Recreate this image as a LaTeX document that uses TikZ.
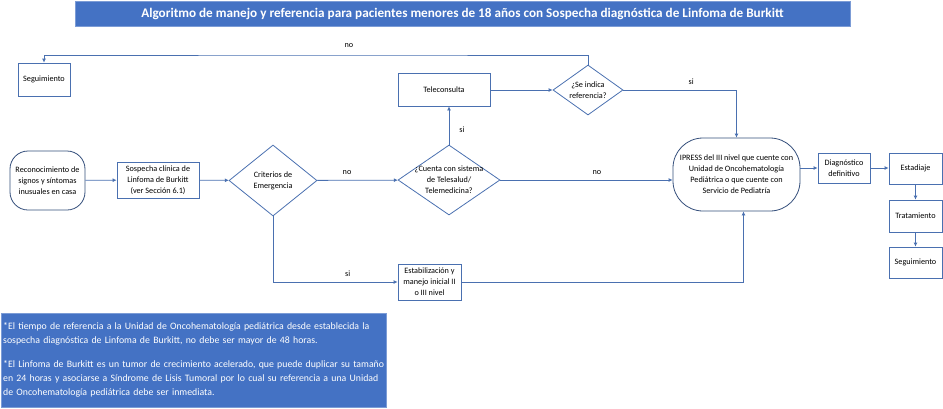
\documentclass[tikz,border=0pt]{standalone}
\usepackage{fontspec}
\setmainfont{Carlito}
\usetikzlibrary{shapes.geometric,arrows.meta}
\definecolor{azul}{HTML}{4472C4}
\definecolor{linea}{HTML}{4A70B0}
\begin{document}
\begin{tikzpicture}[
  x=1pt, y=-1pt,
  every node/.style={font=\fontsize{8.2}{11}\selectfont, align=center, inner sep=2pt},
  flecha/.style={draw=linea, line width=0.8pt, -{Latex[length=4pt,width=4pt]}}
]
\tikzset{
  caja/.style={draw=linea, line width=0.8pt, rectangle},
  redondo/.style={draw=linea!70!black, line width=0.8pt, rectangle},
  rombo/.style={draw=linea, line width=0.8pt, diamond, inner sep=0pt},
  etiqueta/.style={inner sep=2pt},
  banda/.style={fill=azul, draw=azul!70!white, text=white}
}
\useasboundingbox (0,0) rectangle (943,408);

% titulo
\node[banda, minimum width=775pt, minimum height=25pt, font=\fontsize{13.2}{15}\selectfont\bfseries] (titulo) at (462.5,13.5)
  {Algoritmo de manejo y referencia para pacientes menores de 18 años con Sospecha diagnóstica de Linfoma de Burkitt};

\node[redondo, rounded corners=18pt, minimum width=75pt, minimum height=59pt] (recon) at (47.5,180.5)
  {Reconocimiento de\\signos y síntomas\\inusuales en casa};
\node[caja, minimum width=82pt, minimum height=36pt] (sosp) at (158,180)
  {Sospecha clínica de\\Linfoma de Burkitt\\(ver Sección 6.1)};
\node[rombo, minimum width=88pt, minimum height=71pt,
  label={center:{Criterios de\\Emergencia}}] (crit) at (273,180.5) {};
\node[rombo, minimum width=102pt, minimum height=70pt,
  label={center:{¿Cuenta con sistema\\de Telesalud/\\Telemedicina?}}] (cuenta) at (449,180) {};
\node[caja, minimum width=92pt, minimum height=33pt] (tele) at (444,89.5) {Teleconsulta};
\node[rombo, minimum width=70pt, minimum height=50pt,
  label={center:{¿Se indica\\referencia?}}] (refer) at (588,90) {};
\node[caja, minimum width=52pt, minimum height=33pt] (seg) at (44,79.5) {Seguimiento};
\node[caja, minimum width=63pt, minimum height=36pt] (estab) at (429.5,282)
  {Estabilización y\\manejo inicial II\\o III nivel};
\node[redondo, rounded corners=30pt, minimum width=127pt, minimum height=73pt] (ipress) at (736.5,174.5)
  {IPRESS del III nivel que cuente con\\Unidad de Oncohematología\\Pediátrica o que cuente con\\Servicio de Pediatría};
\node[caja, minimum width=52pt, minimum height=30pt] (diag) at (844,168) {Diagnóstico\\definitivo};
\node[caja, minimum width=53pt, minimum height=31pt] (estad) at (915.5,168.5) {Estadiaje};
\node[caja, minimum width=53pt, minimum height=32pt] (trat) at (915.5,216) {Tratamiento};
\node[caja, minimum width=53pt, minimum height=31pt] (seg2) at (915.5,262.5) {Seguimiento};

% nota
\node[banda, anchor=north west, minimum width=385pt, minimum height=94pt, text width=381pt,
  inner xsep=2pt, align=left, font=\fontsize{9.8}{14}\selectfont] (nota) at (1,313)
  {*El tiempo de referencia a la Unidad de Oncohematología pediátrica desde establecida la\\
   sospecha diagnóstica de Linfoma de Burkitt, no debe ser mayor de 48 horas.\\[10pt]
   *El Linfoma de Burkitt es un tumor de crecimiento acelerado, que puede duplicar su tamaño\\
   en 24 horas y asociarse a Síndrome de Lisis Tumoral por lo cual su referencia a una Unidad\\
   de Oncohematología pediátrica debe ser inmediata.};

\coordinate (arriba) at (349,55);
\draw[flecha] (recon) -- (sosp);
\draw[flecha] (sosp) -- (crit);
\draw[flecha] (crit) -- node[etiqueta, pos=0.37, above=3pt] {no} (cuenta);
\draw[flecha] (cuenta.north) -- node[etiqueta, pos=0.4, right=8pt] {si} (cuenta.north |- tele.south);
\draw[flecha] (tele.east |- refer.west) -- (refer.west);
\draw[flecha] (refer.north) |- (arriba) node[etiqueta, above=5pt] {no} -| (seg.north);
\draw[flecha] (refer.east) -| node[etiqueta, pos=0.3, above=3pt] {si} (ipress.north);
\draw[flecha] (cuenta.east) -- node[etiqueta, pos=0.56, above=3pt] {no} (cuenta.east -| ipress.west);
\draw[flecha] (crit.south) |- node[etiqueta, pos=0.8, above=3pt] {si} (estab.west);
\draw[flecha] (estab.east) -| ([xshift=7pt]ipress.south); % entra por abajo
\draw[flecha] (ipress.east |- diag.west) -- (diag.west);
\draw[flecha] (diag) -- (diag -| estad.west);
\draw[flecha] (estad) -- (trat);
\draw[flecha] (trat) -- (seg2);
\end{tikzpicture}
\end{document}
